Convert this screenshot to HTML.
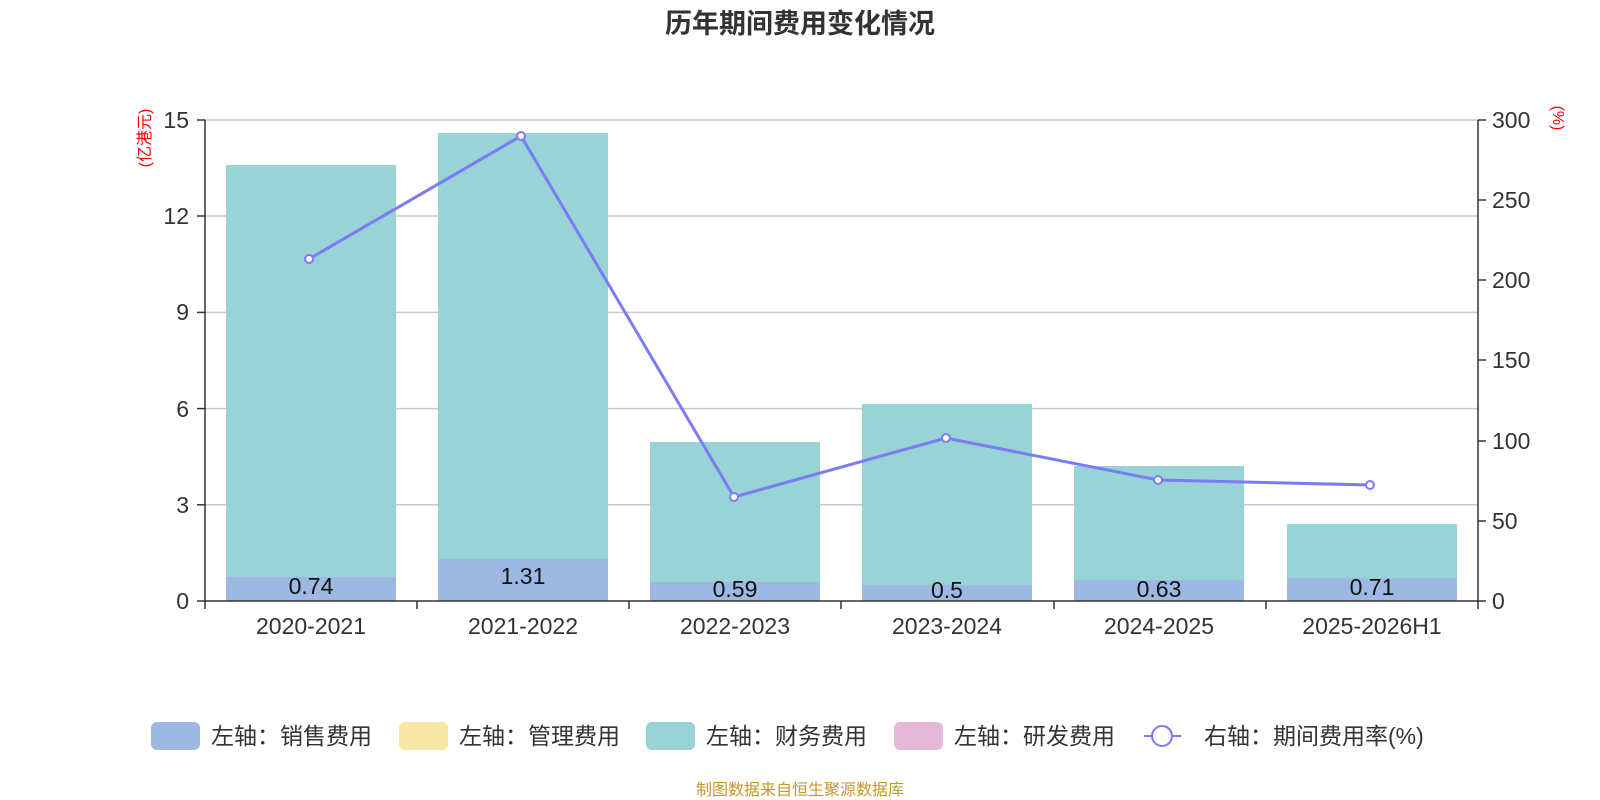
<!DOCTYPE html>
<html><head><meta charset="utf-8"><style>
html,body{margin:0;padding:0;background:#fff;}
svg{display:block;font-family:"Liberation Sans","Noto Sans CJK SC",sans-serif;}
</style></head><body>
<svg width="1600" height="800" viewBox="0 0 1600 800" xmlns="http://www.w3.org/2000/svg">
<text x="800" y="33" text-anchor="middle" font-size="27" font-weight="bold" fill="#333">历年期间费用变化情况</text>
<g stroke="#c8c8c8" stroke-width="1.5">
<line x1="205" y1="120" x2="1478" y2="120"/>
<line x1="205" y1="216" x2="1478" y2="216"/>
<line x1="205" y1="312.4" x2="1478" y2="312.4"/>
<line x1="205" y1="408.6" x2="1478" y2="408.6"/>
<line x1="205" y1="504.8" x2="1478" y2="504.8"/>
</g>
<g>
<rect x="226" y="165" width="170" height="436" fill="#98d3d5"/>
<rect x="438" y="133" width="170" height="468" fill="#98d3d5"/>
<rect x="650" y="442" width="170" height="159" fill="#98d3d5"/>
<rect x="862" y="404" width="170" height="197" fill="#98d3d5"/>
<rect x="1074" y="466" width="170" height="135" fill="#98d3d5"/>
<rect x="1287" y="524" width="170" height="77" fill="#98d3d5"/>
<rect x="226" y="577" width="170" height="24" fill="#9db8e2"/>
<rect x="438" y="559" width="170" height="42" fill="#9db8e2"/>
<rect x="650" y="582" width="170" height="19" fill="#9db8e2"/>
<rect x="862" y="585" width="170" height="16" fill="#9db8e2"/>
<rect x="1074" y="580" width="170" height="21" fill="#9db8e2"/>
<rect x="1287" y="578" width="170" height="23" fill="#9db8e2"/>
</g>
<g font-size="23" fill="#111" text-anchor="middle">
<text x="311" y="594">0.74</text>
<text x="523" y="584">1.31</text>
<text x="735" y="597">0.59</text>
<text x="947" y="598">0.5</text>
<text x="1159" y="597">0.63</text>
<text x="1372" y="595">0.71</text>
</g>
<g stroke="#333" stroke-width="1.5">
<line x1="205" y1="120" x2="205" y2="601"/>
<line x1="1478" y1="120" x2="1478" y2="601"/>
<line x1="205" y1="601" x2="1478" y2="601"/>
<line x1="197" y1="120" x2="205" y2="120"/><line x1="197" y1="216" x2="205" y2="216"/><line x1="197" y1="312.4" x2="205" y2="312.4"/><line x1="197" y1="408.6" x2="205" y2="408.6"/><line x1="197" y1="504.8" x2="205" y2="504.8"/><line x1="197" y1="601" x2="205" y2="601"/>
<line x1="1478" y1="120" x2="1486" y2="120"/><line x1="1478" y1="200" x2="1486" y2="200"/><line x1="1478" y1="280" x2="1486" y2="280"/><line x1="1478" y1="360" x2="1486" y2="360"/><line x1="1478" y1="441" x2="1486" y2="441"/><line x1="1478" y1="521" x2="1486" y2="521"/><line x1="1478" y1="601" x2="1486" y2="601"/>
<line x1="205" y1="601" x2="205" y2="609"/><line x1="417" y1="601" x2="417" y2="609"/><line x1="629" y1="601" x2="629" y2="609"/><line x1="841" y1="601" x2="841" y2="609"/><line x1="1054" y1="601" x2="1054" y2="609"/><line x1="1266" y1="601" x2="1266" y2="609"/><line x1="1478" y1="601" x2="1478" y2="609"/>
</g>
<g font-size="23" fill="#333" text-anchor="end">
<text x="189" y="128">15</text><text x="189" y="224">12</text><text x="189" y="320">9</text><text x="189" y="417">6</text><text x="189" y="513">3</text><text x="189" y="609">0</text>
</g>
<g font-size="23" fill="#333">
<text x="1492" y="128">300</text><text x="1492" y="208">250</text><text x="1492" y="288">200</text><text x="1492" y="368">150</text><text x="1492" y="449">100</text><text x="1492" y="529">50</text><text x="1492" y="609">0</text>
</g>
<g font-size="23" fill="#333" text-anchor="middle">
<text x="311" y="634">2020-2021</text><text x="523" y="634">2021-2022</text><text x="735" y="634">2022-2023</text><text x="947" y="634">2023-2024</text><text x="1159" y="634">2024-2025</text><text x="1372" y="634">2025-2026H1</text>
</g>
<text transform="translate(150,138) rotate(-90)" font-size="16" fill="#f00" text-anchor="middle">(亿港元)</text>
<text transform="translate(1553,118) rotate(90)" font-size="16" fill="#f00" text-anchor="middle">(%)</text>
<polyline points="309,259 521,136 734,497 946,438 1158,480 1370,485" fill="none" stroke="#7b7bf5" stroke-width="3"/>
<g fill="#fff" stroke="#7b7bf5" stroke-width="2">
<circle cx="309" cy="259" r="4"/><circle cx="521" cy="136" r="4"/><circle cx="734" cy="497" r="4"/><circle cx="946" cy="438" r="4"/><circle cx="1158" cy="480" r="4"/><circle cx="1370" cy="485" r="4"/>
</g>
<g font-size="23" fill="#333">
<rect x="151" y="722" width="49" height="28" rx="6" fill="#9db8e2"/><text x="211" y="744">左轴：销售费用</text>
<rect x="399" y="722" width="49" height="28" rx="6" fill="#f7e6a6"/><text x="459" y="744">左轴：管理费用</text>
<rect x="646" y="722" width="49" height="28" rx="6" fill="#98d3d5"/><text x="706" y="744">左轴：财务费用</text>
<rect x="894" y="722" width="49" height="28" rx="6" fill="#e6b8d8"/><text x="954" y="744">左轴：研发费用</text>
<line x1="1144" y1="736" x2="1181" y2="736" stroke="#7b7bf5" stroke-width="2"/>
<circle cx="1162" cy="736" r="10" fill="#fff" stroke="#7b7bf5" stroke-width="2"/>
<text x="1204" y="744">右轴：期间费用率(%)</text>
</g>
<text x="800" y="795" text-anchor="middle" font-size="16" fill="#c8962a">制图数据来自恒生聚源数据库</text>
</svg>
</body></html>
